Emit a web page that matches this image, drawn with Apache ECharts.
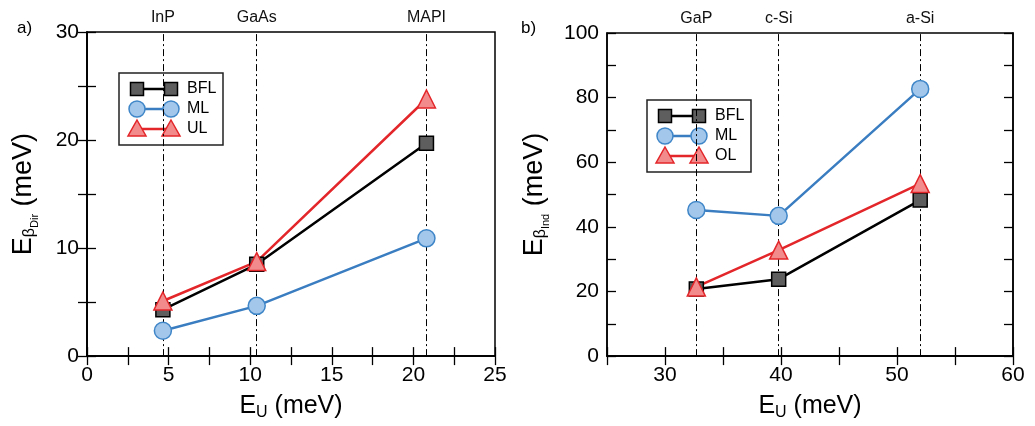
<!DOCTYPE html>
<html><head><meta charset="utf-8">
<script src="https://cdn.jsdelivr.net/npm/echarts@6/dist/echarts.min.js"></script>
<style>html,body{margin:0;padding:0;background:#fff}#c{width:1035px;height:426px}</style>
</head><body><div id="c"></div>
<script>
// Panel a (direct-gap materials)
const materialsA = ['InP', 'GaAs', 'MAPI'];
const euA = [4.65, 10.4, 20.8];
const bflA = [4.3, 8.5, 19.7];
const mlA = [2.35, 4.65, 10.9];
const ulA = [5.1, 8.75, 23.8];
// Panel b (indirect-gap materials)
const materialsB = ['GaP', 'c-Si', 'a-Si'];
const euB = [32.7, 39.8, 52.0];
const bflB = [20.8, 23.8, 48.3];
const mlB = [45.2, 43.4, 82.7];
const olB = [21.4, 32.8, 53.4];
const legendA = ['BFL', 'ML', 'UL'];
const legendB = ['BFL', 'ML', 'OL'];

const FONT = 'Liberation Sans, Arial, sans-serif';
const C = {
  bfl: {line: '#000000', fill: '#5e5e5e', border: '#000000', symbol: 'rect', size: 14},
  ml: {line: '#3a7dc0', fill: '#a3c7ea', border: '#3f86c8', symbol: 'circle', size: 17},
  ul: {line: '#e3262a', fill: '#f28c8c', border: '#e3262a', symbol: 'triangle', size: 18}
};

function pairs(xs, ys) { return xs.map((x, i) => [x, ys[i]]); }

function mkSeries(name, style, xs, ys, gi, mark, mats) {
  const s = {
    type: 'line', name: name, xAxisIndex: gi * 2, yAxisIndex: gi * 2,
    data: pairs(xs, ys), symbol: style.symbol, symbolSize: style.size,
    lineStyle: {color: style.line, width: 2.5},
    itemStyle: {color: style.fill, borderColor: style.border, borderWidth: 1.5},
    z: 3, animation: false
  };
  if (mark) {
    s.markLine = {
      silent: true, symbol: 'none', animation: false,
      lineStyle: {color: '#000', width: 1, type: [7, 3, 2, 3]},
      label: {show: true, position: 'end', formatter: '{b}', fontSize: 16, color: '#111', fontFamily: FONT, distance: 6},
      data: mats.map((m, i) => ({name: m, xAxis: xs[i]}))
    };
    s.markLine.z = 1;
  }
  return s;
}

const tickStyle = {inside: true, length: 9, lineStyle: {color: '#000', width: 1.3}};
const labelStyle = {fontSize: 21, color: '#000', fontFamily: FONT};

function xAxes(gi, min, max, interval, minorSplit, fmt) {
  const main = {
    type: 'value', gridIndex: gi, position: 'bottom', min: min, max: max, interval: interval,
    axisLine: {show: true, lineStyle: {color: '#000', width: 1.5}},
    axisTick: tickStyle, splitLine: {show: false},
    axisLabel: Object.assign({margin: 9, formatter: fmt}, labelStyle),
    minorTick: minorSplit ? {show: true, splitNumber: minorSplit, length: 9, lineStyle: {color: '#000', width: 1.3}} : {show: false},
    name: '{e|E}{s|U}{e| (meV)}', nameLocation: 'middle', nameGap: 35,
    nameTextStyle: {fontFamily: FONT, color: '#000', rich: {
      e: {fontSize: 25, fontFamily: FONT, lineHeight: 27},
      s: {fontSize: 16, fontFamily: FONT, lineHeight: 16, padding: [14, 0, 0, 0]}
    }}
  };
  const top = Object.assign({}, main, {position: 'top', axisLabel: {show: false}, name: ''});
  return [main, top];
}

function yAxes(gi, min, max, interval, minorSplit, sub) {
  const main = {
    type: 'value', gridIndex: gi, position: 'left', min: min, max: max, interval: interval,
    axisLine: {show: true, lineStyle: {color: '#000', width: 1.5}},
    axisTick: tickStyle, splitLine: {show: false},
    axisLabel: Object.assign({margin: 8}, labelStyle),
    minorTick: {show: true, splitNumber: minorSplit, length: 9, lineStyle: {color: '#000', width: 1.3}},
    name: '{e|E}{b|β}{d|' + sub + '}{e| (meV)}', nameLocation: 'middle', nameRotate: 90, nameGap: gi === 0 ? 49 : 58,
    nameTextStyle: {fontFamily: FONT, color: '#000', rich: {
      e: {fontSize: 27, fontFamily: FONT, lineHeight: 29},
      b: {fontSize: 16, fontFamily: FONT, lineHeight: 16, padding: [12, 0, 0, 0]},
      d: {fontSize: 11, fontFamily: FONT, lineHeight: 11, padding: [22, 0, 0, 0]}
    }}
  };
  const right = Object.assign({}, main, {position: 'right', axisLabel: {show: false}, name: ''});
  return [main, right];
}

function legendGraphic(x, y, names) {
  const styles = [C.bfl, C.ml, C.ul];
  const children = [{type: 'rect', shape: {x: 0, y: 0, width: 104, height: 72}, style: {fill: '#fff', stroke: '#222', lineWidth: 1.5}}];
  names.forEach((n, i) => {
    const cy = 16 + i * 20;
    const st = styles[i];
    const x1 = 18, x2 = 52;
    children.push({type: 'line', shape: {x1: x1, y1: cy, x2: x2, y2: cy}, style: {stroke: st.line, lineWidth: 2.5}});
    [x1, x2].forEach(cx => {
      let el;
      const sty = {fill: st.fill, stroke: st.border, lineWidth: 1.5};
      if (st.symbol === 'rect') el = {type: 'rect', shape: {x: cx - 6.5, y: cy - 6.5, width: 13, height: 13}, style: sty};
      else if (st.symbol === 'circle') el = {type: 'circle', shape: {cx: cx, cy: cy, r: 8}, style: sty};
      else el = {type: 'polygon', shape: {points: [[cx, cy - 9], [cx + 9, cy + 7], [cx - 9, cy + 7]]}, style: sty};
      children.push(el);
    });
    children.push({type: 'text', x: 68, y: cy, style: {text: n, fontSize: 16, fontFamily: FONT, fill: '#000', verticalAlign: 'middle'}});
  });
  return {type: 'group', x: x, y: y, children: children, z: 10};
}

const chart = echarts.init(document.getElementById('c'), null, {renderer: 'canvas'});
const xa = xAxes(0, 0, 25, 5, 2, null);
const xb = xAxes(1, 25, 60, 5, 0, v => (v % 10 === 0 ? String(v) : ''));
const ya = yAxes(0, 0, 30, 10, 2, 'Dir');
const yb = yAxes(1, 0, 100, 20, 2, 'Ind');

chart.setOption({
  animation: false,
  backgroundColor: '#fff',
  grid: [
    {left: 87, right: 540, top: 32, bottom: 67, show: true, borderColor: '#000', borderWidth: 1.5, containLabel: false},
    {left: 607, right: 22, top: 33, bottom: 65, show: true, borderColor: '#000', borderWidth: 1.5, containLabel: false}
  ],
  xAxis: [xa[0], xa[1], xb[0], xb[1]],
  yAxis: [ya[0], ya[1], yb[0], yb[1]],
  series: [
    mkSeries('BFL', C.bfl, euA, bflA, 0, true, materialsA),
    mkSeries('ML', C.ml, euA, mlA, 0, false),
    mkSeries('UL', C.ul, euA, ulA, 0, false),
    mkSeries('BFL', C.bfl, euB, bflB, 1, true, materialsB),
    mkSeries('ML', C.ml, euB, mlB, 1, false),
    mkSeries('OL', C.ul, euB, olB, 1, false)
  ],
  graphic: [
    {type: 'text', x: 17, y: 20, style: {text: 'a)', fontSize: 17, fontFamily: FONT, fill: '#000'}},
    {type: 'text', x: 521, y: 20, style: {text: 'b)', fontSize: 17, fontFamily: FONT, fill: '#000'}},
    legendGraphic(119, 73, legendA),
    legendGraphic(647, 100, legendB)
  ]
});
</script></body></html>
